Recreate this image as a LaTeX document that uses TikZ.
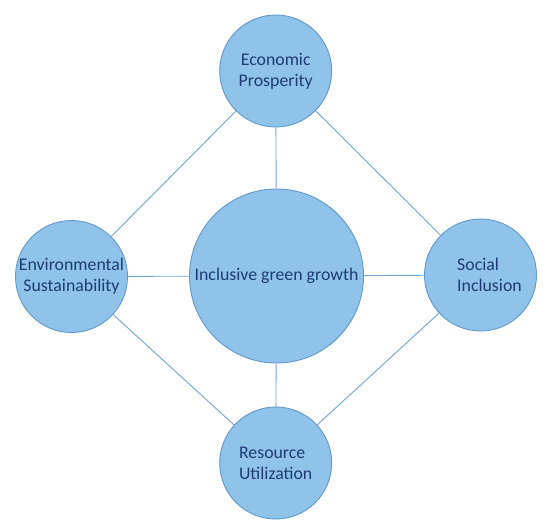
\documentclass[tikz,border=0pt]{standalone}
\usepackage{fontspec}
\setmainfont{Carlito}
\definecolor{discblue}{RGB}{143,195,234}
\definecolor{ringblue}{RGB}{96,152,204}
\definecolor{linkblue}{RGB}{110,164,214}
\definecolor{inkblue}{RGB}{30,60,115}
\begin{document}
\begin{tikzpicture}[x=1pt,y=-1pt,
    pillartext/.style={align=center, text=inkblue, inner sep=0pt,
      font=\fontsize{17.8}{21}\selectfont},
    pillar/.style={circle, draw=ringblue, fill=discblue, line width=0.9pt,
      minimum size=112pt, inner sep=0pt, pillartext},
    link/.style={draw=linkblue, line width=0.9pt}]
    \useasboundingbox (0,0) rectangle (550,527);
    % centre
    \node[pillar, minimum size=174pt] (igg) at (276.5,276) {Inclusive green growth};
    % four pillars
    \node[pillar] (econ) at (275.7,71) {Economic\\Prosperity};
    \node[pillar] (env) at (71.5,276.5) {Environmental\\Sustainability};
    \node[pillar, label={[pillartext, align=left, xshift=9pt]center:Social\\Inclusion}]
      (soc) at (480.5,275) {};
    \node[pillar, align=left] (res) at (275.7,463) {Resource\\Utilization};
    % diamond
    \foreach \a/\b in {econ/soc,soc/res,res/env,env/econ}
    \draw[link] (\a) -- (\b);
    % spokes
    \foreach \p in {econ,soc,res,env}
    \draw[link] (igg) -- (\p);
\end{tikzpicture}
\end{document}
